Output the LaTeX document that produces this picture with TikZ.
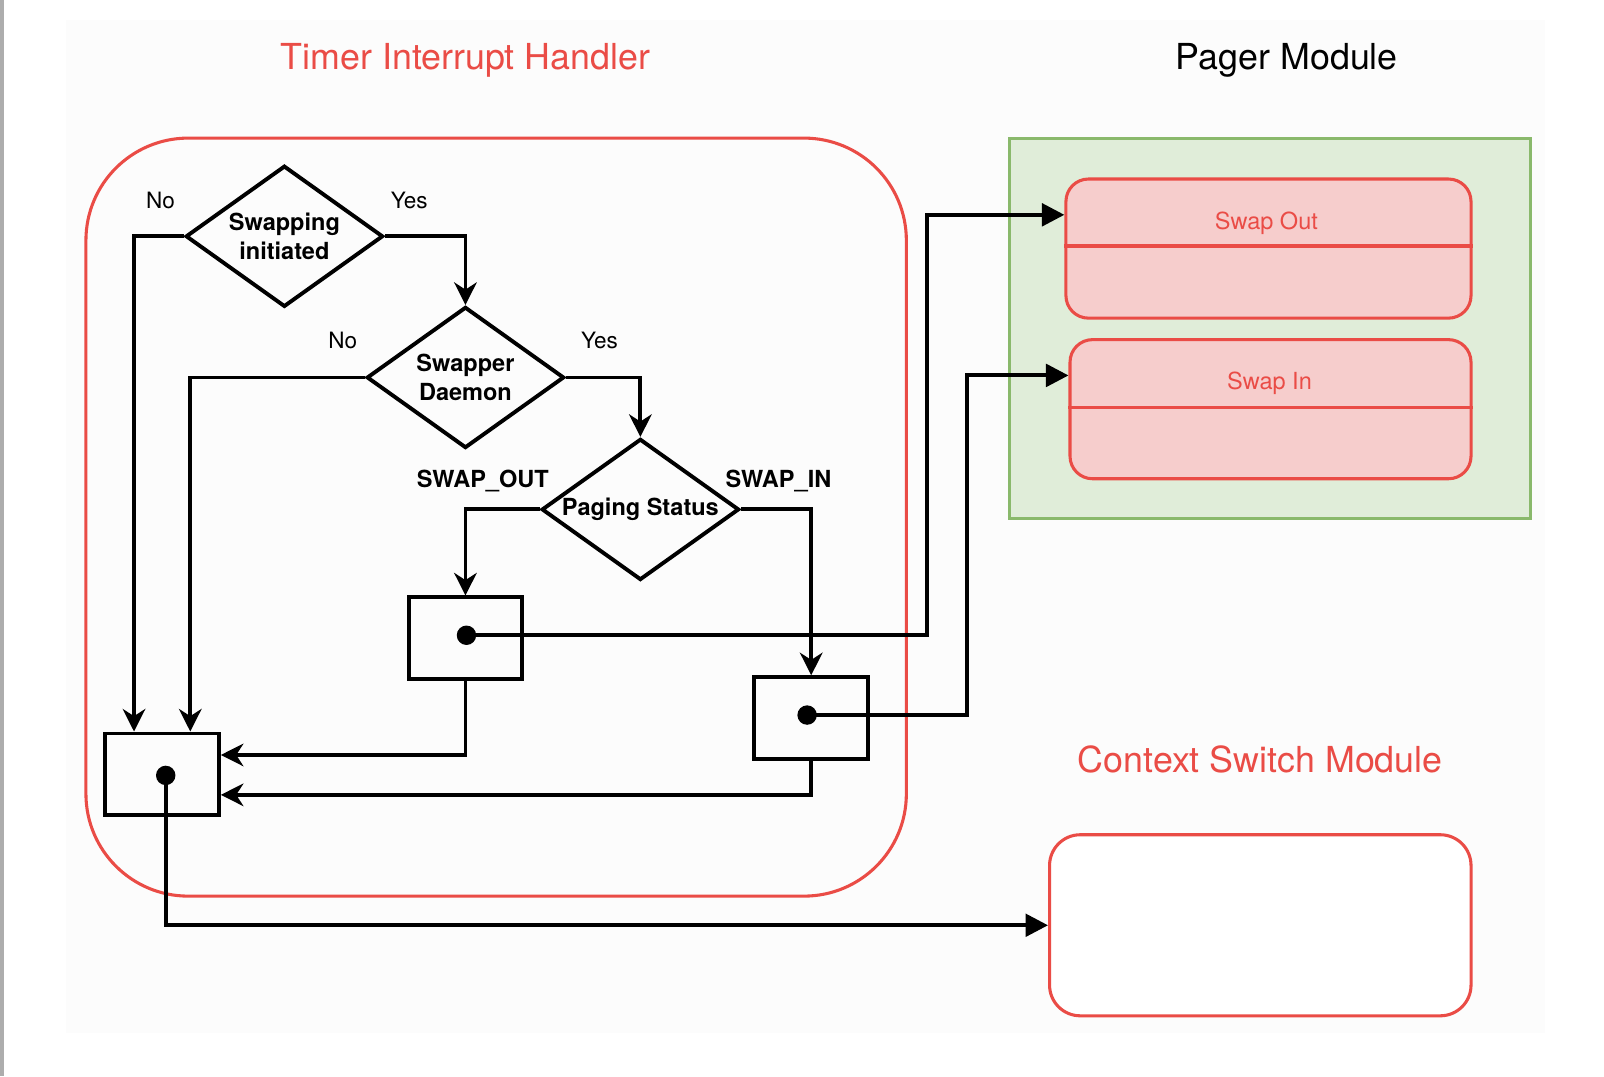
\documentclass[tikz,border=0pt]{standalone}
\usepackage{fontspec}
\setmainfont{TeX Gyre Heros}
\usetikzlibrary{shapes.geometric,arrows.meta,calc}
\definecolor{tred}{RGB}{234,76,70}
\definecolor{pinkfill}{RGB}{246,205,204}
\definecolor{greenfill}{RGB}{224,237,217}
\definecolor{greenline}{RGB}{138,185,108}
\definecolor{bgcol}{RGB}{252,252,252}
\definecolor{barcol}{RGB}{173,173,173}
\begin{document}
\begin{tikzpicture}[x=1pt,y=-1pt,
  conn/.style={line width=3.8pt,-{Stealth[length=22pt,width=22pt,inset=7pt]}},
  blockconn/.style={line width=3.8pt,-{Triangle[length=22pt,width=22pt]}},
  decision/.style={draw,line width=3.8pt,diamond,aspect=1.4,inner sep=0pt,
    minimum width=193pt,minimum height=138pt,align=center,
    font=\fontsize{23}{28}\selectfont\bfseries},
  stepbox/.style={draw,line width=3.8pt,rectangle,minimum width=111pt,minimum height=80pt,inner sep=0pt},
  dotnode/.style={circle,fill=black,inner sep=0pt,minimum size=19pt},
  lbl/.style={font=\fontsize{22}{26}\selectfont},
  blbl/.style={font=\fontsize{23}{27}\selectfont\bfseries},
  title/.style={font=\fontsize{35}{42}\selectfont},
  lane/.style={draw=tred,line width=3pt,fill=pinkfill,rounded corners=22pt,inner sep=0pt},
  lanetext/.style={text=tred,font=\fontsize{23}{28}\selectfont}
]
\useasboundingbox (0,0) rectangle (1568,1052);
\fill[white] (0,0) rectangle (1568,1052);
\fill[bgcol] (65,20) rectangle (1510,1010);
\fill[barcol] (0,0) rectangle (4,1052);

% titles
\node[title,text=tred] (t1) at (455,59) {Timer Interrupt Handler};
\node[title] (t2) at (1258,59) {Pager Module};
\node[title,text=tred] (t3) at (1232,742) {Context Switch Module};

% containers
\node[draw=tred,line width=3pt,rounded corners=100pt,minimum width=802pt,minimum height=741pt,inner sep=0pt] (timer) at (485,505.5) {};
\node[draw=greenline,fill=greenfill,line width=3pt,minimum width=509pt,minimum height=372pt,inner sep=0pt] (pager) at (1241.5,321) {};

\node[lane,minimum width=396pt,minimum height=136pt] (so) at (1240,243) {};
\draw[tred,line width=3pt] ($(so.north west)+(0,67)$) -- ($(so.north east)+(0,67)$);
\node[lanetext] (sotext) at (1238,218) {Swap Out};

\node[lane,minimum width=392pt,minimum height=136pt] (si) at (1242,400) {};
\draw[tred,line width=3pt] ($(si.north west)+(0,68)$) -- ($(si.north east)+(0,68)$);
\node[lanetext] (sitext) at (1241,375) {Swap In};

\node[draw=tred,fill=white,line width=3pt,rounded corners=30pt,minimum width=412pt,minimum height=177pt,inner sep=0pt] (ctx) at (1232,904.5) {};

% decisions
\node[decision] (d1) at (278,231) {Swapping\\initiated};
\node[decision] (d2) at (455,369) {Swapper\\Daemon};
\node[decision] (d3) at (626,498) {Paging Status};

% boxes
\node[stepbox] (boxA) at (158.5,757) {};
\node[stepbox] (boxB) at (455,624) {};
\node[stepbox] (boxC) at (793,702) {};
\node[dotnode] (dotA) at (162,758) {};
\node[dotnode] (dotB) at (456,621) {};
\node[dotnode] (dotC) at (789,699) {};

% labels
\node[lbl] (l1) at (157,196) {No};
\node[lbl] (l2) at (400,196) {Yes};
\node[lbl] (l3) at (335,333) {No};
\node[lbl] (l4) at (586,333) {Yes};
\node[blbl] (l5) at (472,470) {SWAP\_OUT};
\node[blbl] (l6) at (761,470) {SWAP\_IN};

% connectors
\draw[conn] (d1.west) -| ([xshift=-27.5pt]boxA.north);
\draw[conn] (d1.east) -| (d2.north);
\draw[conn] (d2.west) -| ([xshift=27.5pt]boxA.north);
\draw[conn] (d2.east) -| (d3.north);
\draw[conn] (d3.west) -| (boxB.north);
\draw[conn] (d3.east) -| (boxC.north);
\draw[conn] (boxB.south) |- (boxA.east |- 0,738);
\draw[conn] (boxC.south) |- (boxA.east |- 0,777);
\draw[blockconn] (dotB.center) -| (906,210) -- (so.west |- 906,210);
\draw[blockconn] (dotC.center) -| (945,367) -- (si.west |- 945,367);
\draw[blockconn] (dotA.center) |- (ctx.west);
\end{tikzpicture}
\end{document}
